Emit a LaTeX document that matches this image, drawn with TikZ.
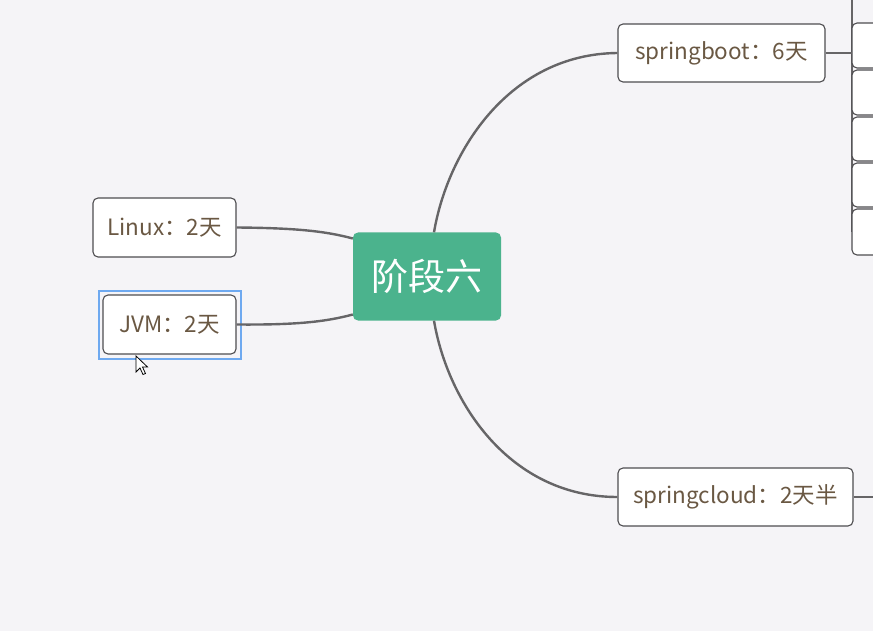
\documentclass[tikz,border=0pt]{standalone}
\usepackage{fontspec}
\setmainfont{Noto Sans CJK SC}
\begin{document}
\begin{tikzpicture}[x=1pt,y=-1pt,
  conn/.style={draw=linec,line width=2.4pt},
  topic/.style={draw=boxb,line width=1.1pt,fill=white,rounded corners=5pt,
    inner sep=0pt,text=txtc,font=\fontsize{22.5}{26}\selectfont},
  sidebox/.style={draw=boxb,line width=1.1pt,fill=white,rounded corners=5pt}]
\definecolor{bg}{HTML}{F5F4F7}
\definecolor{linec}{HTML}{666567}
\definecolor{boxb}{HTML}{4E4D50}
\definecolor{txtc}{HTML}{6A5843}
\definecolor{greenc}{HTML}{4BB38D}
\definecolor{selc}{HTML}{6EA9F0}
\useasboundingbox (0,0) rectangle (873,631);
\clip (0,0) rectangle (873,631);
\fill[bg] (0,0) rectangle (873,631);

% springboot children (cut off at right edge)
\coordinate (vtop) at (852,0);
\coordinate (vbot) at (852,232);
\draw[conn,line width=1.8pt] (vtop) -- (vbot);
\draw[sidebox] (852,23) rectangle (900,68);
\draw[sidebox] (852,70) rectangle (900,115);
\draw[sidebox] (852,117) rectangle (900,161);
\draw[sidebox] (852,163) rectangle (900,207);
\draw[sidebox] (852,209) rectangle (900,255);

% central topic
\node[fill=greenc,rounded corners=5pt,minimum width=148pt,minimum height=88pt,
  inner sep=0pt,text=white,font=\fontsize{37}{42}\selectfont] (c) at (427,276.5) {阶段六};

% subtopics
\node[topic,minimum width=143pt,minimum height=59pt] (linux) at (164.5,227.5) {Linux：2天};
\node[topic,minimum width=133pt,minimum height=59pt] (jvm) at (169.5,324.5) {JVM：2天};
\node[topic,minimum width=207pt,minimum height=58pt] (sb) at (721.5,53) {springboot：6天};
\node[topic,minimum width=235pt,minimum height=58pt] (sc) at (735.5,497) {springcloud：2天半};

% selection frame
\node[draw=selc,line width=2.4pt,minimum width=142pt,minimum height=68pt,inner sep=0pt] (sel) at (170,325) {};

% connectors
\draw[conn] ([xshift=7pt]c.north) .. controls (448,150) and (510,54) .. (sb.west);
\draw[conn] ([xshift=7pt]c.south) .. controls (448,403) and (510,497) .. (sc.west);
\draw[conn] ([yshift=38pt]c.west) .. controls (325,231) and (295,228) .. (linux.east);
\draw[conn] ([yshift=-38pt]c.west) .. controls (325,322) and (295,325) .. (jvm.east);
\draw[conn,line width=1.8pt] (sb.east) -- (852,53);
\coordinate (scend) at (873,497);
\draw[conn,line width=1.8pt] (sc.east) -- (scend);

% mouse cursor
\draw[black,fill=white,line width=0.8pt,line join=miter]
  (136,356) -- (136,372) -- (140,368) -- (143,374.5) -- (145.5,373.5) -- (142.5,367) -- (147.5,367) -- cycle;
\end{tikzpicture}
\end{document}
